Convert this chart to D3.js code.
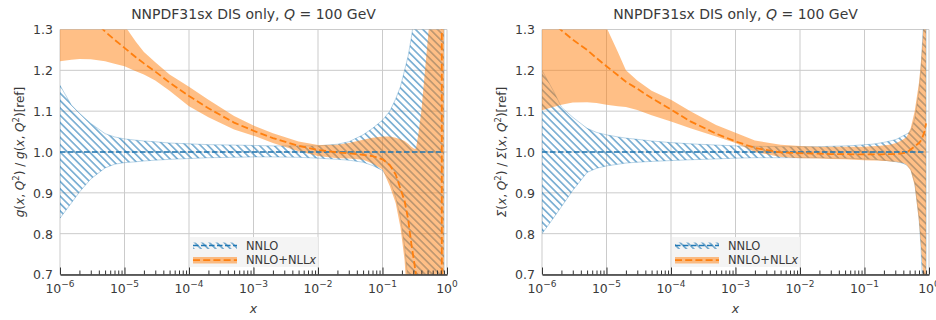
<!DOCTYPE html>
<html><head><meta charset="utf-8">
<script src="https://cdn.jsdelivr.net/npm/d3@7"></script>
<style>
body{margin:0;background:#fff}
svg{display:block}
text{font-family:"DejaVu Sans",sans-serif;fill:#3a3a3a}
</style>
</head><body>
<svg id="c" width="936" height="320"></svg>
<script>
// ---------------- data ----------------
const xs = [1e-6,1.5e-6,2e-6,3e-6,5e-6,7e-6,1e-5,1.5e-5,2e-5,3e-5,5e-5,1e-4,2e-4,5e-4,1e-3,2e-3,5e-3,1e-2,2e-2,3e-2,5e-2,0.07,0.1,0.13,0.16,0.19,0.22,0.25,0.28,0.31,0.33,0.36,0.4,0.45,0.52,0.6,0.7,0.75,0.8,0.825,0.835,0.85,0.9];

// gluon panel
const gNnloCentral = [1,1,1,1,1,1,1,1,1,1,1,1,1,1,1,1,1,1,1,1,1,1,1,1,1,1,1,1,1,1,1,1,1,1,1,1,1,1,1,1,1,1,1];
const gNnloLower = [0.838,0.875,0.902,0.934,0.961,0.970,0.974,0.976,0.978,0.980,0.982,0.984,0.986,0.987,0.988,0.988,0.987,0.985,0.982,0.980,0.975,0.967,0.955,0.930,0.890,0.840,0.770,0.680,0.560,0.420,0.300,0.100,-0.2,-0.6,-1.2,-2,-3,-3.5,-4,-4.5,-4.5,-5,-6];
const gNnloUpper = [1.163,1.115,1.095,1.070,1.045,1.037,1.032,1.029,1.027,1.025,1.022,1.020,1.018,1.017,1.016,1.015,1.015,1.015,1.019,1.025,1.042,1.058,1.078,1.100,1.130,1.160,1.200,1.235,1.280,1.330,1.370,1.450,1.6,1.8,2.1,2.5,3,3.3,3.6,3.8,3.9,4,4.5];
const gNllxCentral = [1.42,1.38,1.36,1.33,1.295,1.275,1.255,1.232,1.217,1.197,1.170,1.137,1.107,1.072,1.052,1.034,1.015,1.005,0.999,0.997,0.993,0.990,0.982,0.968,0.945,0.910,0.880,0.835,0.775,0.730,0.700,0.600,0.400,0.100,-0.4,-1,-2.5,-4,-8,-40,40,15,6];
const gNllxLower = [1.222,1.226,1.228,1.227,1.222,1.216,1.210,1.198,1.190,1.175,1.150,1.112,1.085,1.055,1.040,1.022,1.002,0.990,0.985,0.984,0.981,0.972,0.957,0.916,0.875,0.815,0.735,0.600,0.400,0.200,0.0,-0.3,-0.6,-1,-1.6,-2.2,-3,-3.5,-4,-4.5,-4.5,-5,-6];
const gNllxUpper = [1.50,1.48,1.46,1.43,1.39,1.35,1.31,1.27,1.245,1.22,1.19,1.16,1.128,1.088,1.065,1.046,1.026,1.017,1.018,1.022,1.030,1.035,1.038,1.038,1.035,1.031,1.027,1.020,1.013,1.008,1.008,1.045,1.10,1.19,1.30,1.5,2,2.4,3,3.5,3.5,4,5];

// singlet panel
const sNnloCentral = [1,1,1,1,1,1,1,1,1,1,1,1,1,1,1,1,1,1,1,1,1,1,1,1,1,1,1,1,1,1,1,1,1,1,1,1,1,1,1,1,1,1,1];
const sNnloLower = [0.800,0.838,0.866,0.906,0.950,0.960,0.966,0.970,0.973,0.975,0.977,0.979,0.981,0.983,0.985,0.986,0.986,0.986,0.986,0.985,0.985,0.984,0.983,0.982,0.981,0.980,0.979,0.978,0.977,0.976,0.975,0.974,0.972,0.968,0.958,0.925,0.840,0.770,0.660,0.600,0.570,0.500,0.200];
const sNnloUpper = [1.200,1.150,1.110,1.085,1.058,1.048,1.042,1.037,1.034,1.031,1.027,1.023,1.020,1.017,1.015,1.014,1.013,1.013,1.013,1.014,1.015,1.016,1.018,1.019,1.021,1.023,1.025,1.027,1.029,1.031,1.033,1.036,1.040,1.044,1.050,1.080,1.150,1.200,1.280,1.330,1.360,1.400,1.600];
const sNllxCentral = [1.34,1.315,1.298,1.275,1.25,1.23,1.21,1.188,1.172,1.155,1.132,1.104,1.075,1.045,1.026,1.010,0.999,0.997,0.996,0.995,0.995,0.994,0.994,0.994,0.994,0.994,0.995,0.995,0.995,0.995,0.995,0.996,0.997,0.999,1.006,1.014,1.022,1.028,1.038,1.044,1.047,1.050,1.070];
const sNllxLower = [1.102,1.110,1.116,1.121,1.122,1.120,1.116,1.112,1.110,1.103,1.090,1.075,1.058,1.038,1.022,1.000,0.988,0.985,0.984,0.983,0.982,0.981,0.980,0.979,0.979,0.978,0.978,0.977,0.976,0.976,0.975,0.974,0.973,0.968,0.955,0.918,0.830,0.770,0.710,0.670,0.650,0.600,0.300];
const sNllxUpper = [1.50,1.48,1.46,1.43,1.39,1.35,1.305,1.245,1.200,1.175,1.150,1.128,1.100,1.066,1.047,1.028,1.018,1.015,1.013,1.013,1.013,1.013,1.013,1.014,1.015,1.016,1.017,1.018,1.020,1.022,1.024,1.027,1.031,1.037,1.058,1.100,1.170,1.220,1.280,1.320,1.340,1.400,1.700];

const yTicks = [0.7,0.8,0.9,1.0,1.1,1.2,1.3];
const xMajorTicks = [1e-6,1e-5,1e-4,1e-3,1e-2,1e-1,1];
const xTickExponents = ["\u22126","\u22125","\u22124","\u22123","\u22122","\u22121","0"];
const legendLabels = ["NNLO","NNLO+NLL"];
const titleParts = ["NNPDF31sx DIS only, ","Q"," = 100 GeV"];

// ---------------- drawing ----------------
const svg = d3.select("#c");
const defs = svg.append("defs");
const pat = defs.append("pattern").attr("id","hatch")
  .attr("patternUnits","userSpaceOnUse").attr("width",10).attr("height",5.2)
  .attr("patternTransform","rotate(45)");
pat.append("line").attr("x1",-1).attr("x2",11).attr("y1",2.6).attr("y2",2.6)
  .attr("stroke","#1f77b4").attr("stroke-width",1);

const BLUE = "#1f77b4", ORANGE = "#ff7f0e";
const plotTop = 29.5, plotBottom = 274.5;

const panels = [
  {id:"p0", x0:60, x1:447, labX:20, sym:"g",
   nLo:gNnloLower, nHi:gNnloUpper, nC:gNnloCentral, lC:gNllxCentral, lLo:gNllxLower, lHi:gNllxUpper},
  {id:"p1", x0:542, x1:929, labX:502, sym:"\u03A3",
   nLo:sNnloLower, nHi:sNnloUpper, nC:sNnloCentral, lC:sNllxCentral, lLo:sNllxLower, lHi:sNllxUpper}
];

const minorTicks = [];
for (let e=-6;e<0;e++) for (let m=2;m<=9;m++) minorTicks.push(m*Math.pow(10,e));

panels.forEach(p => {
  const x = d3.scaleLog().domain([1e-6,1]).range([p.x0,p.x1]);
  const y = d3.scaleLinear().domain([0.7,1.3]).range([plotBottom,plotTop]);
  const g = svg.append("g");

  defs.append("clipPath").attr("id","clip"+p.id).append("rect")
    .attr("x",p.x0).attr("y",plotTop).attr("width",p.x1-p.x0).attr("height",plotBottom-plotTop);

  // grid
  const grid = g.append("g").attr("stroke","#cbcbcb").attr("stroke-width",1);
  grid.selectAll("line.h").data(yTicks).join("line").attr("class","h")
    .attr("x1",p.x0).attr("x2",p.x1).attr("y1",d=>y(d)).attr("y2",d=>y(d));
  grid.selectAll("line.v").data(xMajorTicks).join("line").attr("class","v")
    .attr("x1",d=>x(d)).attr("x2",d=>x(d)).attr("y1",plotTop).attr("y2",plotBottom);

  const data = xs.map((v,i)=>({x:v,nLo:p.nLo[i],nHi:p.nHi[i],nC:p.nC[i],lC:p.lC[i],lLo:p.lLo[i],lHi:p.lHi[i]}));
  const plot = g.append("g").attr("clip-path","url(#clip"+p.id+")");

  const areaN = d3.area().x(d=>x(d.x)).y0(d=>y(d.nLo)).y1(d=>y(d.nHi));
  const areaL = d3.area().x(d=>x(d.x)).y0(d=>y(d.lLo)).y1(d=>y(d.lHi));
  const lineN = d3.line().x(d=>x(d.x)).y(d=>y(d.nC));
  const lineL = d3.line().x(d=>x(d.x)).y(d=>y(d.lC));

  plot.append("path").datum(data).attr("d",d=>areaN(d))
    .attr("fill","url(#hatch)").attr("stroke",BLUE).attr("stroke-opacity",0.3).attr("stroke-width",1);
  plot.append("path").datum(data).attr("d",areaL)
    .attr("fill",ORANGE).attr("fill-opacity",0.5).attr("stroke","none");
  plot.append("path").datum(data).attr("d",lineN)
    .attr("fill","none").attr("stroke",BLUE).attr("stroke-width",1.3).attr("stroke-dasharray","5.5,2.5");
  plot.append("path").datum(data).attr("d",lineL)
    .attr("fill","none").attr("stroke",ORANGE).attr("stroke-width",1.8).attr("stroke-dasharray","7,3.2");

  // x axis (ticks inward)
  const axMin = g.append("g").attr("transform",`translate(0,${plotBottom})`)
    .call(d3.axisBottom(x).tickValues(minorTicks).tickSize(-4).tickSizeOuter(0).tickFormat(()=>""));
  axMin.select(".domain").remove();
  const axMaj = g.append("g").attr("transform",`translate(0,${plotBottom})`)
    .call(d3.axisBottom(x).tickValues(xMajorTicks).tickSize(-7).tickSizeOuter(0).tickFormat(()=>""));
  [axMin,axMaj].forEach(a=>a.selectAll(".tick line").attr("stroke","#333").attr("stroke-width",1));
  axMaj.select(".domain").attr("stroke","#333").attr("stroke-width",1.6);

  // x tick labels with superscripts
  xMajorTicks.forEach((v,i)=>{
    const t = g.append("text").attr("x",x(v)).attr("y",292.5).attr("text-anchor","middle").attr("font-size",12.5);
    t.append("tspan").text("10");
    t.append("tspan").attr("font-size",9).attr("dy",-5.5).text(xTickExponents[i]);
  });

  // y axis labels
  const ay = g.append("g").attr("transform",`translate(${p.x0},0)`)
    .call(d3.axisLeft(y).tickValues(yTicks).tickSize(0).tickPadding(7).tickFormat(d3.format(".1f")));
  ay.select(".domain").remove();
  ay.selectAll("text").attr("font-size",12.5).attr("font-family","DejaVu Sans").attr("fill","#3a3a3a").attr("dy","0.35em");

  // title
  const cx = (p.x0+p.x1)/2;
  const tt = g.append("text").attr("x",cx).attr("y",18.5).attr("text-anchor","middle").attr("font-size",14);
  tt.append("tspan").text(titleParts[0]);
  tt.append("tspan").attr("font-style","italic").text(titleParts[1]);
  tt.append("tspan").text(titleParts[2]);

  // x label
  g.append("text").attr("x",cx).attr("y",313).attr("text-anchor","middle").attr("font-size",12.5)
    .attr("font-style","italic").text("x");

  // y label
  const yl = g.append("text").attr("transform",`translate(${p.labX},${(plotTop+plotBottom)/2}) rotate(-90)`)
    .attr("text-anchor","middle").attr("dy","0.35em").attr("font-size",12);
  const seg = (txt,it,sup)=>{
    const s = yl.append("tspan").text(txt);
    if (it) s.attr("font-style","italic");
    if (sup) s.attr("font-size",8.5).attr("dy",-5);
    return s;
  };
  const half = (suffix)=>{
    seg(p.sym,true);
    seg("(");
    seg("x",true); seg(", "); seg("Q",true); seg("2",false,true);
    yl.append("tspan").attr("dy",5).text(")"+suffix);
  };
  half(" / ");
  half("[ref]");

  // legend
  const lx = p.x0+130, ly = 237;
  const lg = g.append("g");
  lg.append("rect").attr("x",lx).attr("y",ly).attr("width",128).attr("height",30)
    .attr("fill","#f3f3f3").attr("fill-opacity",0.9);
  lg.append("rect").attr("x",lx+3).attr("y",ly+5.5).attr("width",44).attr("height",6.5)
    .attr("fill","url(#hatch)");
  lg.append("line").attr("x1",lx+3).attr("x2",lx+47).attr("y1",ly+8.5).attr("y2",ly+8.5)
    .attr("stroke",BLUE).attr("stroke-width",1.3).attr("stroke-dasharray","5.5,2.5");
  lg.append("rect").attr("x",lx+3).attr("y",ly+20).attr("width",44).attr("height",6.5)
    .attr("fill",ORANGE).attr("fill-opacity",0.5);
  lg.append("line").attr("x1",lx+3).attr("x2",lx+47).attr("y1",ly+23.2).attr("y2",ly+23.2)
    .attr("stroke",ORANGE).attr("stroke-width",1.8).attr("stroke-dasharray","7,3.2");
  lg.append("text").attr("x",lx+56).attr("y",ly+12.5).attr("font-size",11.5).text(legendLabels[0]);
  const t2 = lg.append("text").attr("x",lx+56).attr("y",ly+27).attr("font-size",11.5);
  t2.append("tspan").text(legendLabels[1]);
  t2.append("tspan").attr("font-style","italic").text("x");
});
</script>
</body></html>
